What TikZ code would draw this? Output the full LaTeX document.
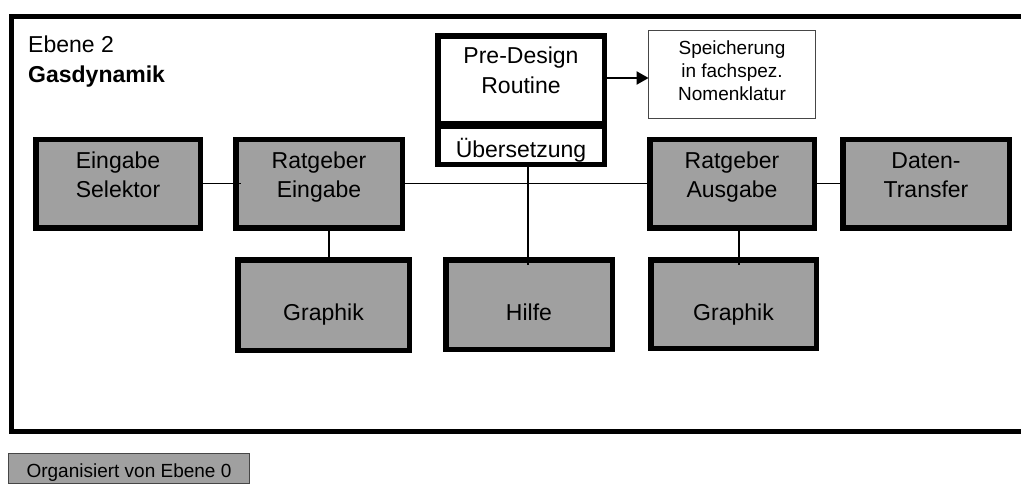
\documentclass[tikz,border=0pt]{standalone}
\usepackage{fontspec}
\setmainfont{Liberation Sans}
\usetikzlibrary{arrows.meta,calc}
\definecolor{boxgray}{RGB}{160,160,160}
\definecolor{thinline}{RGB}{70,70,70}
\begin{document}
\begin{tikzpicture}[x=1pt,y=-1pt,
  gbox/.style={rectangle,draw=black,line width=5.5pt,fill=boxgray,inner sep=0pt,outer sep=0pt},
  wbox/.style={gbox,fill=white},
  tbox/.style={rectangle,draw=thinline,line width=1.2pt,inner sep=0pt,outer sep=0pt},
  lbl/.style={anchor=base,inner sep=0pt,font=\fontsize{23}{27}\selectfont},
  slbl/.style={anchor=base,inner sep=0pt,font=\fontsize{19}{22}\selectfont},
  conn/.style={line width=1.5pt}]
\useasboundingbox (0,0) rectangle (1021,485);
\begin{scope}
  \clip (0,0) rectangle (1021,485);
  \draw[line width=5pt] (1040,16) -- (11,16) -- (11,431) -- (1040,431);
\end{scope}

% title
\node[lbl,anchor=base west] (ebene) at (28,52) {Ebene 2};
\node[lbl,anchor=base west,font=\fontsize{23}{27}\selectfont\bfseries] (gas) at (28,82) {Gasdynamik};

% boxes
\node[gbox,minimum width=164.5pt,minimum height=88.5pt] (es) at (118,183.5) {};
\node[gbox,minimum width=166.5pt,minimum height=88.5pt] (re) at (319,183.5) {};
\node[gbox,minimum width=164.5pt,minimum height=88.5pt] (ra) at (732,183.5) {};
\node[gbox,minimum width=166.5pt,minimum height=88.5pt] (dt) at (926,183.5) {};
\node[gbox,minimum width=171.5pt,minimum height=90.5pt] (g1) at (323.5,305) {};
\node[gbox,minimum width=166.5pt,minimum height=89.5pt] (hi) at (529,304.5) {};
\node[gbox,minimum width=165.5pt,minimum height=88.5pt] (g2) at (733.5,304) {};
\node[wbox,minimum width=166.5pt,minimum height=87.5pt] (pre) at (521,79.5) {};
\node[wbox,minimum width=166.5pt,minimum height=38.5pt] (ub) at (521,145) {};
\node[tbox,fill=white,minimum width=166.8pt,minimum height=87.8pt] (sp) at (732,74.5) {};
\node[tbox,fill=boxgray,minimum width=241pt,minimum height=30pt] (org) at (129,468.5) {};

% texts
\node[lbl] (tes1) at (118,168) {Eingabe};
\node[lbl] (tes2) at (118,197) {Selektor};
\node[lbl] (tre1) at (319,168) {Ratgeber};
\node[lbl] (tre2) at (319,197) {Eingabe};
\node[lbl] (tra1) at (732,168) {Ratgeber};
\node[lbl] (tra2) at (732,197) {Ausgabe};
\node[lbl] (tdt1) at (926,168) {Daten-};
\node[lbl] (tdt2) at (926,197) {Transfer};
\node[lbl] (tg1) at (323.5,320) {Graphik};
\node[lbl] (thi) at (529,320) {Hilfe};
\node[lbl] (tg2) at (733.5,320) {Graphik};
\node[lbl] (tpre1) at (521,63) {Pre-Design};
\node[lbl] (tpre2) at (521,93) {Routine};
\node[lbl] (tub) at (521,157) {Übersetzung};
\node[slbl] (tsp1) at (732,54) {Speicherung};
\node[slbl] (tsp2) at (732,77) {in fachspez.};
\node[slbl] (tsp3) at (732,100) {Nomenklatur};
\node[slbl] (torg) at (129,477) {Organisiert von Ebene 0};

% connectors
\draw[conn] (es.east) -- ([xshift=5pt]re.west);
\draw[conn] (re.east) -- ([xshift=2pt]ra.west);
\draw[conn] (ra.east) -- (dt.west);
\draw[conn] ([xshift=10pt]re.south) -- ([xshift=10pt]re.south |- g1.north);
\draw[conn] ([xshift=7pt]ub.south) -- ([xshift=7pt,yshift=-5pt]ub.south |- hi.north);
\draw[conn] ([xshift=7pt]ra.south) -- ([xshift=7pt,yshift=-5pt]ra.south |- g2.north);
\draw[line width=2pt,-{Triangle[length=12pt,width=13pt]}] (pre.east |- 0,78) -- (sp.west |- 0,78);
\end{tikzpicture}
\end{document}
